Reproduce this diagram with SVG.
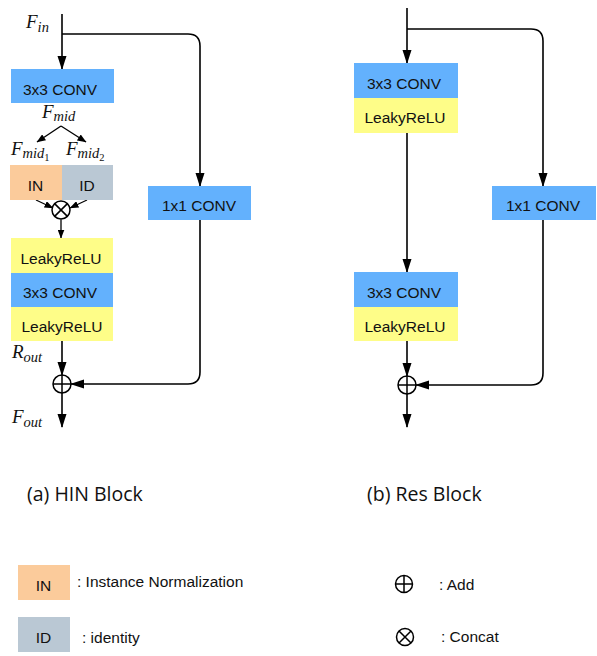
<svg xmlns="http://www.w3.org/2000/svg" width="597" height="656" viewBox="0 0 597 656">
  <style>
    .conv { fill: #63b1fd; }
    .relu { fill: #fefd88; }
    .norm { fill: #fbcb9b; }
    .iden { fill: #bac8d4; }
    .lbl { font-family: "Liberation Sans", Arial, sans-serif; font-size: 15.5px; fill: #111; text-anchor: middle; }
    .leg { font-family: "Liberation Sans", Arial, sans-serif; font-size: 15.5px; fill: #111; }
    .cap { font-family: "Open Sans", "Liberation Sans", sans-serif; font-size: 19.5px; fill: #111; }
    .m { font-family: "Liberation Serif", "Times New Roman", serif; font-style: italic; font-size: 19px; fill: #111; }
    .s { font-size: 14.5px; }
    .ss { font-size: 10.5px; font-style: normal; }
    .wire { fill: none; stroke: #000; stroke-width: 1.6; }
    .thin { fill: none; stroke: #000; stroke-width: 1.3; }
    .op { fill: none; stroke: #000; stroke-width: 1.5; }
  </style>
  <defs>
    <marker id="arrow" markerUnits="userSpaceOnUse" viewBox="0 0 14 10" markerWidth="14" markerHeight="10" refX="13" refY="5" orient="auto">
      <path d="M0,0.5 L14,5 L0,9.5 z" fill="#000"/>
    </marker>
    <marker id="arrowSmall" markerUnits="userSpaceOnUse" viewBox="0 0 9 7" markerWidth="9" markerHeight="7" refX="8.5" refY="3.5" orient="auto">
      <path d="M0,0 L9,3.5 L0,7 z" fill="#000"/>
    </marker>
  </defs>

  <rect width="597" height="656" fill="#fff"/>

  <!-- connectors -->
  <g id="connectors">
    <!-- HIN block -->
    <path class="wire" d="M62,14 V69" marker-end="url(#arrow)"/>
    <path class="wire" d="M62,34 H188 Q200,34 200,46 V186" marker-end="url(#arrow)"/>
    <path class="thin" d="M61,126 L37,142" marker-end="url(#arrowSmall)"/>
    <path class="thin" d="M61,126 L86,142" marker-end="url(#arrowSmall)"/>
    <path class="thin" d="M36,200 L53,208" marker-end="url(#arrowSmall)"/>
    <path class="thin" d="M87,200 L70,208" marker-end="url(#arrowSmall)"/>
    <path class="thin" d="M61,219.5 V238" marker-end="url(#arrowSmall)"/>
    <path class="wire" d="M62,341 V375" marker-end="url(#arrow)"/>
    <path class="wire" d="M200,220 V372 Q200,384 188,384 H71" marker-end="url(#arrow)"/>
    <path class="wire" d="M62,393 V427" marker-end="url(#arrow)"/>
    <!-- Res block -->
    <path class="wire" d="M407,8 V63" marker-end="url(#arrow)"/>
    <path class="wire" d="M407,29 H531 Q543,29 543,41 V186" marker-end="url(#arrow)"/>
    <path class="wire" d="M407,133 V272" marker-end="url(#arrow)"/>
    <path class="wire" d="M407,341 V376" marker-end="url(#arrow)"/>
    <path class="wire" d="M543,220 V373 Q543,385 531,385 H416" marker-end="url(#arrow)"/>
    <path class="wire" d="M407,394 V427" marker-end="url(#arrow)"/>
  </g>

  <!-- HIN block nodes -->
  <g id="hin-conv1">
    <rect class="conv" x="11" y="69" width="103" height="34"/>
    <text class="lbl" x="60" y="95">3x3 CONV</text>
  </g>
  <g id="hin-in">
    <rect class="norm" x="10" y="165" width="52" height="35"/>
    <text class="lbl" x="35.5" y="191">IN</text>
  </g>
  <g id="hin-id">
    <rect class="iden" x="62" y="165" width="51" height="35"/>
    <text class="lbl" x="87" y="191">ID</text>
  </g>
  <g id="hin-concat">
    <circle class="op" cx="61" cy="210" r="9"/>
    <path class="op" d="M54.6,203.6 L67.4,216.4 M67.4,203.6 L54.6,216.4"/>
  </g>
  <g id="hin-relu1">
    <rect class="relu" x="11" y="238" width="102" height="35"/>
    <text class="lbl" x="61" y="263.5">LeakyReLU</text>
  </g>
  <g id="hin-conv2">
    <rect class="conv" x="11" y="273" width="102" height="34"/>
    <text class="lbl" x="60" y="298">3x3 CONV</text>
  </g>
  <g id="hin-relu2">
    <rect class="relu" x="11" y="307" width="102" height="34"/>
    <text class="lbl" x="62" y="332">LeakyReLU</text>
  </g>
  <g id="hin-conv1x1">
    <rect class="conv" x="148" y="186" width="103" height="34"/>
    <text class="lbl" x="199" y="211">1x1 CONV</text>
  </g>
  <g id="hin-add">
    <circle class="op" cx="62" cy="384" r="9"/>
    <path class="op" d="M53,384 H71 M62,375 V393"/>
  </g>

  <!-- HIN block math labels -->
  <g id="hin-labels">
    <text class="m" x="26" y="28">F<tspan class="s" dy="4">in</tspan></text>
    <text class="m" x="42" y="118">F<tspan class="s" dy="3">mid</tspan></text>
    <text class="m" x="11" y="155">F<tspan class="s" dy="3">mid</tspan><tspan class="ss" dy="3">1</tspan></text>
    <text class="m" x="66" y="155">F<tspan class="s" dy="3">mid</tspan><tspan class="ss" dy="3">2</tspan></text>
    <text class="m" x="12" y="358">R<tspan class="s" dy="4">out</tspan></text>
    <text class="m" x="12" y="423">F<tspan class="s" dy="4">out</tspan></text>
  </g>

  <!-- Res block nodes -->
  <g id="res-conv1">
    <rect class="conv" x="354" y="63" width="104" height="35"/>
    <text class="lbl" x="404" y="88.5">3x3 CONV</text>
  </g>
  <g id="res-relu1">
    <rect class="relu" x="354" y="98" width="104" height="35"/>
    <text class="lbl" x="405" y="122.5">LeakyReLU</text>
  </g>
  <g id="res-conv2">
    <rect class="conv" x="354" y="272" width="104" height="35"/>
    <text class="lbl" x="404" y="297.5">3x3 CONV</text>
  </g>
  <g id="res-relu2">
    <rect class="relu" x="354" y="307" width="104" height="34"/>
    <text class="lbl" x="405" y="331.5">LeakyReLU</text>
  </g>
  <g id="res-conv1x1">
    <rect class="conv" x="492" y="186" width="104" height="34"/>
    <text class="lbl" x="543" y="211">1x1 CONV</text>
  </g>
  <g id="res-add">
    <circle class="op" cx="407" cy="385" r="9"/>
    <path class="op" d="M398,385 H416 M407,376 V394"/>
  </g>

  <!-- captions -->
  <text class="cap" x="27" y="501">(a) HIN Block</text>
  <text class="cap" x="367" y="501">(b) Res Block</text>

  <!-- legend -->
  <g id="legend-in">
    <rect class="norm" x="18" y="565" width="52" height="35"/>
    <text class="lbl" x="43.5" y="591">IN</text>
    <text class="leg" x="77" y="587">: Instance Normalization</text>
  </g>
  <g id="legend-id">
    <rect class="iden" x="18" y="617" width="52" height="35"/>
    <text class="lbl" x="43.5" y="643">ID</text>
    <text class="leg" x="82" y="643">: identity</text>
  </g>
  <g id="legend-add">
    <circle class="op" cx="404" cy="584" r="8.5"/>
    <path class="op" d="M395.5,584 H412.5 M404,575.5 V592.5"/>
    <text class="leg" x="439" y="590">: Add</text>
  </g>
  <g id="legend-concat">
    <circle class="op" cx="405" cy="637" r="8.5"/>
    <path class="op" d="M399,631 L411,643 M411,631 L399,643"/>
    <text class="leg" x="441" y="642">: Concat</text>
  </g>
</svg>
